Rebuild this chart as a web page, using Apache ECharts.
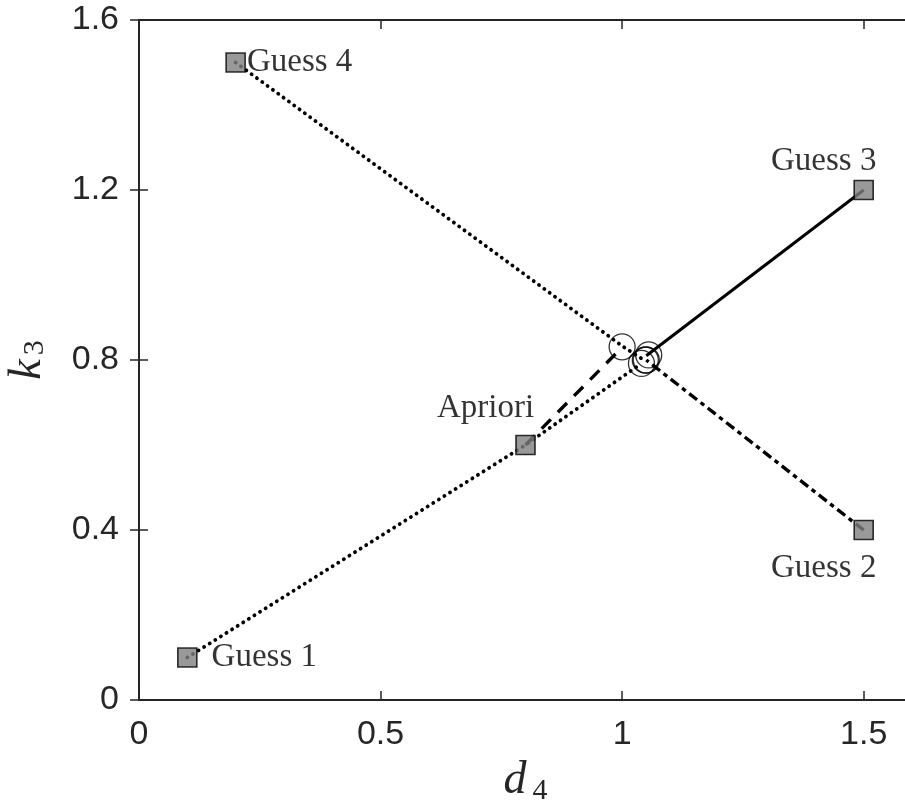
<!DOCTYPE html>
<html><head><meta charset="utf-8">
<script src="https://cdn.jsdelivr.net/npm/echarts@6/dist/echarts.min.js"></script>
<style>html,body{margin:0;padding:0;background:#fff}#c{width:905px;height:804px}</style>
</head><body><div id="c"></div>
<script>
// ---- data ----
const startNames = ['Guess 1', 'Guess 2', 'Guess 3', 'Guess 4', 'Apriori'];
const startX = [0.1, 1.5, 1.5, 0.2, 0.8];
const startY = [0.1, 0.4, 1.2, 1.5, 0.6];
// iteration paths (x and y arrays) for each start
const pathGuess1X = [0.1, 0.8, 1.04];
const pathGuess1Y = [0.1, 0.6, 0.792];
const pathGuess2X = [1.5, 1.05];
const pathGuess2Y = [0.4, 0.80];
const pathGuess3X = [1.5, 1.05];
const pathGuess3Y = [1.2, 0.81];
const pathGuess4X = [0.2, 1.0, 1.045];
const pathGuess4Y = [1.5, 0.833, 0.80];
const pathAprioriX = [0.8, 1.0];
const pathAprioriY = [0.6, 0.83];
const endX = [1.04, 1.05, 1.055, 1.048, 1.0];
const endY = [0.792, 0.80, 0.812, 0.80, 0.831];
const xTicks = [0, 0.5, 1, 1.5];
const yTicks = [0, 0.4, 0.8, 1.2, 1.6];

// ---- build ----
const zip = (xs, ys) => xs.map((x, i) => [x, ys[i]]);
const labelFont = {fontFamily: 'Liberation Serif, serif', fontSize: 33, color: '#000'};
const labelPlace = {
  'Guess 1': {position: 'right', distance: 14},
  'Guess 2': {position: 'bottom', distance: 12, offset: [-40, 0]},
  'Guess 3': {position: 'top', distance: 2, offset: [-40, 0]},
  'Guess 4': {position: 'right', distance: 1},
  'Apriori': {position: 'top', distance: 10, offset: [-40, 0]}
};
const lineSeries = (xs, ys, type, width, cap) => ({
  type: 'line', data: zip(xs, ys), symbol: 'none', silent: true, z: 2,
  lineStyle: {color: '#000', width: width, type: type, cap: cap || 'butt'}
});
const axisCommon = {
  min: 0, max: 1.6,
  axisLine: {show: true, onZero: false, lineStyle: {color: '#262626', width: 2}},
  axisTick: {show: true, inside: true, length: 9, lineStyle: {color: '#262626', width: 1.5}},
  splitLine: {show: false}
};
const tickFont = {fontFamily: 'Liberation Sans, Arial, sans-serif', fontSize: 34, color: '#262626'};
const option = {
  animation: false,
  grid: {left: 139, top: 20, width: 773, height: 680, outerBoundsMode: 'none', containLabel: false},
  xAxis: [
    Object.assign({}, axisCommon, {
      type: 'value', position: 'bottom', interval: 0.5,
      name: '{i|d}{s|4}', nameLocation: 'middle', nameGap: 56,
      nameTextStyle: {rich: {
        i: {fontFamily: 'Liberation Serif, serif', fontStyle: 'italic', fontSize: 46, color: '#262626'},
        s: {fontFamily: 'Liberation Serif, serif', fontSize: 30, color: '#262626', padding: [20, 0, 0, 6]}
      }},
      axisLabel: Object.assign({show: true, showMaxLabel: false, margin: 18,
        formatter: v => xTicks.includes(v) ? String(v) : ''}, tickFont)
    }),
    Object.assign({}, axisCommon, {
      type: 'value', position: 'top', interval: 0.5, axisLabel: {show: false}
    })
  ],
  yAxis: [
    Object.assign({}, axisCommon, {
      type: 'value', position: 'left', interval: 0.4,
      name: '{i|k}{s|3}', nameLocation: 'middle', nameGap: 88,
      nameTextStyle: {rich: {
        i: {fontFamily: 'Liberation Serif, serif', fontStyle: 'italic', fontSize: 46, color: '#262626'},
        s: {fontFamily: 'Liberation Serif, serif', fontSize: 30, color: '#262626', padding: [14, 0, 0, 4]}
      }},
      axisLabel: Object.assign({show: true, margin: 20,
        formatter: v => yTicks.includes(+v.toFixed(1)) ? (v === 0 ? '0' : v.toFixed(1)) : ''}, tickFont)
    }),
    Object.assign({}, axisCommon, {
      type: 'value', position: 'right', interval: 0.4, axisLabel: {show: false},
      axisLine: {show: false}
    })
  ],
  series: [
    lineSeries(pathGuess1X, pathGuess1Y, [0.1, 6.5], 3.8, 'round'),
    lineSeries(pathGuess4X, pathGuess4Y, [0.1, 6.5], 3.8, 'round'),
    lineSeries(pathGuess3X, pathGuess3Y, 'solid', 3),
    lineSeries(pathGuess2X, pathGuess2Y, [10, 4.5, 4.5, 4.5], 3.4),
    lineSeries(pathAprioriX, pathAprioriY, [13, 10], 3.4),
    {
      type: 'scatter', z: 3, symbol: 'circle', symbolSize: 26,
      itemStyle: {color: 'rgba(0,0,0,0)', borderColor: '#000', borderWidth: 1.3},
      data: zip(endX, endY)
    },
    {
      type: 'scatter', z: 4, symbol: 'rect', symbolSize: 19,
      itemStyle: {color: '#808080', borderColor: '#000', borderWidth: 1.6},
      data: startNames.map((n, i) => ({
        value: [startX[i], startY[i]], name: n,
        label: Object.assign({show: true, formatter: n}, labelFont, labelPlace[n])
      }))
    }
  ]
};
const chart = echarts.init(document.getElementById('c'));
chart.setOption(option);
</script>
</body></html>
